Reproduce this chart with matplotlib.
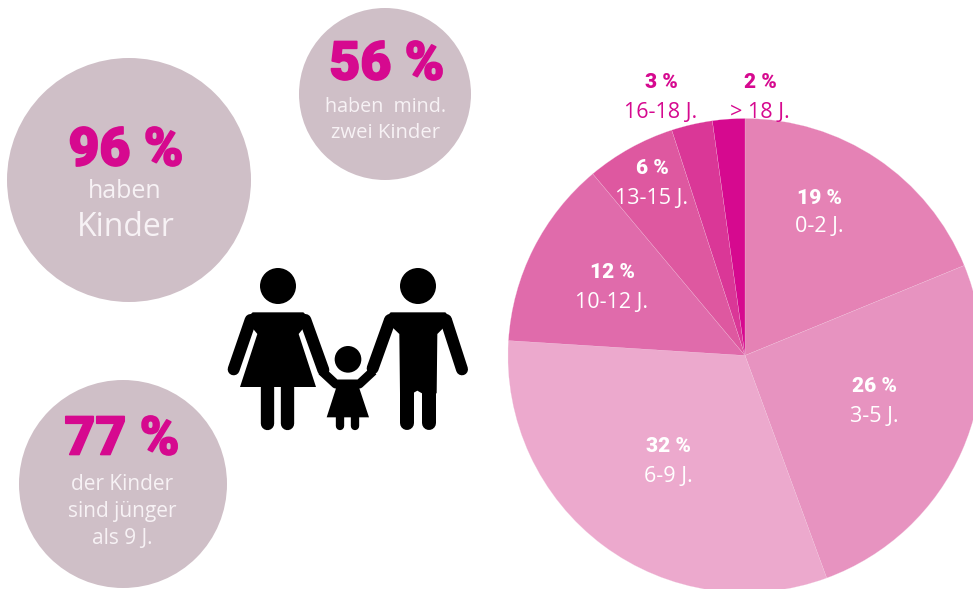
import matplotlib
matplotlib.use("Agg")
import matplotlib.pyplot as plt
import matplotlib.patheffects as pe
from matplotlib.patches import Circle, Polygon

W, H = 973, 589
age_groups = ["0-2 J.", "3-5 J.", "6-9 J.", "10-12 J.", "13-15 J.", "16-18 J.", "> 18 J."]
shares = [19, 26, 32, 12, 6, 3, 2]
# slice extents (the printed labels are rounded)
slice_sizes = [18.8, 25.6, 31.6, 12.9, 6.1, 2.8, 2.2]
slice_colors = ["#E582B5", "#E793C0", "#ECA9CD", "#E06BAB", "#DE58A0", "#DA3797", "#D6098F"]
label_pos = [(819, 211), (874, 400), (668, 460), (612, 286), (652, 182), (661, 96), (760, 96)]
label_colors = ["white", "white", "white", "white", "white", "#D6098F", "#D6098F"]

PINK = "#D6098F"
GREY = "#CFBFC7"
BOLD = dict(family="Roboto", weight="black")
REG = dict(family="Open Sans", weight="regular")

fig = plt.figure(figsize=(W / 100, H / 100), dpi=100)
ax = fig.add_axes([0, 0, 1, 1])
def Y(y):
    return H - y

wedges, _ = ax.pie(slice_sizes, colors=slice_colors, startangle=90, counterclock=False,
                   center=(745, Y(355.5)), radius=237, normalize=True,
                   wedgeprops=dict(edgecolor="#F3C6DF", linewidth=0.15))
ax.set_xlim(0, W)
ax.set_ylim(0, H)
ax.set_aspect("equal")
ax.axis("off")

for (x, y), pct, grp, c in zip(label_pos, shares, age_groups, label_colors):
    ax.text(x, Y(y - 13), f"{pct} %", color=c, fontsize=15, ha="center", va="center", **BOLD)
    ax.text(x, Y(y + 16), grp, color=c, fontsize=15.5, ha="center", va="center", **REG)

# Info circles
for cx, cy, r in [(129, 180, 122), (385, 94, 86), (123, 484, 104)]:
    ax.add_patch(Circle((cx, Y(cy)), r, fc=GREY, ec="none", zorder=2))

big = [("96 %", 126, 151), ("56 %", 387, 65), ("77 %", 122, 440)]
for s, x, y in big:
    t = ax.text(x, Y(y), s, color=PINK, fontsize=38.5, ha="center", va="center", zorder=3, **BOLD)
    t.set_path_effects([pe.withStroke(linewidth=1.2, foreground=PINK)])

small = [("haben", 125, 192, 18), ("Kinder", 126, 227, 23),
         ("haben  mind.", 386, 107, 14.2), ("zwei Kinder", 386, 133, 14.6),
         ("der Kinder", 122, 485, 15), ("sind jünger", 122, 512, 15), ("als 9 J.", 122, 539, 15)]
for s, x, y, fs in small:
    ax.text(x, Y(y), s, color="#F7F2F5", fontsize=fs, ha="center", va="center", zorder=3, **REG)

# Family pictogram, drawn in zoom-crop units (3x, origin 220,260)
def P(zx, zy):
    return 220 + zx / 3, Y(260 + zy / 3)

def head(zx, zy, zr):
    x, y = P(zx, zy)
    ax.add_patch(Circle((x, y), zr / 3, fc="black", ec="none", zorder=4))

def poly(pts):
    ax.add_patch(Polygon([P(*p) for p in pts], closed=True, fc="black", ec="none", zorder=4))

def stroke(pts, zw, cap="round"):
    xy = [P(*p) for p in pts]
    ax.plot([a for a, _ in xy], [b for _, b in xy], color="black", lw=zw / 3 * 0.72,
            solid_capstyle=cap, solid_joinstyle="round", zorder=4)

# woman
head(174, 78, 54)
poly([(98, 157), (250, 157), (272, 178), (236, 222), (288, 381), (60, 381), (112, 222), (76, 178)])
stroke([(92, 180), (41, 328)], 36)
stroke([(256, 180), (310, 330)], 36)
stroke([(142, 381), (142, 488)], 40)
stroke([(202, 381), (202, 488)], 40)
# man
head(594, 78, 54)
poly([(512, 157), (676, 157), (696, 178), (652, 222), (650, 400), (606, 400), (592, 392),
      (578, 400), (540, 400), (538, 222), (492, 178)])
stroke([(510, 180), (458, 325)], 36)
stroke([(678, 180), (726, 328)], 36)
stroke([(560, 395), (560, 488)], 42)
stroke([(628, 395), (628, 488)], 42)
# child
head(384, 298, 40)
poly([(345, 360), (420, 360), (418, 385), (447, 472), (320, 472), (348, 385)])
stroke([(305, 333), (347, 372), (418, 372), (460, 333)], 27, cap="butt")
stroke([(360, 472), (360, 498)], 25)
stroke([(405, 472), (405, 498)], 25)

fig.savefig("out.png", dpi=100, facecolor="white")
